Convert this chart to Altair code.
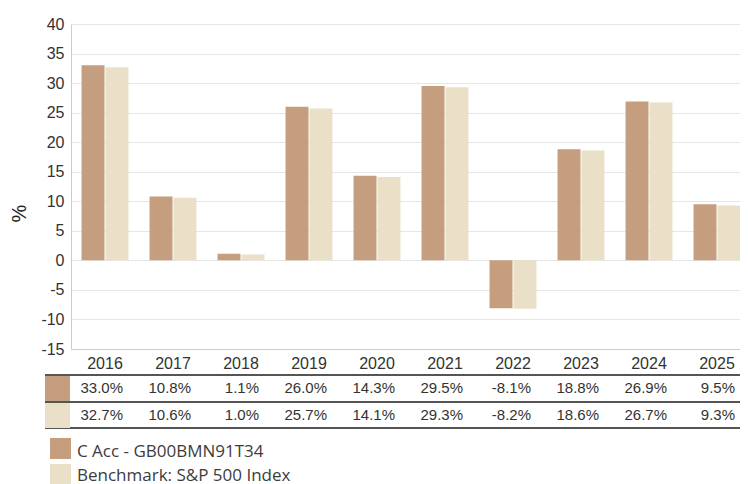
import altair as alt
import pandas as pd

years = ["2016", "2017", "2018", "2019", "2020", "2021", "2022", "2023", "2024", "2025"]
fund = [33.0, 10.8, 1.1, 26.0, 14.3, 29.5, -8.1, 18.8, 26.9, 9.5]
bench = [32.7, 10.6, 1.0, 25.7, 14.1, 29.3, -8.2, 18.6, 26.7, 9.3]
series = ["C Acc - GB00BMN91T34", "Benchmark: S&P 500 Index"]
colors = ["#c49e7f", "#eae0c8"]
y_ticks = [-15, -10, -5, 0, 5, 10, 15, 20, 25, 30, 35, 40]

rows = []
for s, vals in zip(series, [fund, bench]):
    for y, v in zip(years, vals):
        rows.append({"year": y, "series": s, "value": v, "label": f"{v:.1f}%"})
df = pd.DataFrame(rows)
one = pd.DataFrame({"a": [0]})

FONT = "Liberation Sans"
TXT = "#333333"

color_enc = alt.Color("series:N", scale=alt.Scale(domain=series, range=colors), legend=None)
x_enc = alt.X(
    "year:N",
    sort=years,
    scale=alt.Scale(domain=years, range=[0, 680], paddingInner=0.31, paddingOuter=0.155),
    axis=alt.Axis(title=None, labelAngle=0, ticks=False, labelPadding=6, labelFontSize=16,
                  labelFont=FONT, labelColor=TXT, domainColor="#cccccc", grid=False),
)

base = alt.Chart(df)

bars = base.mark_bar().encode(
    x=x_enc,
    xOffset=alt.XOffset("series:N", sort=series, scale=alt.Scale(domain=series, paddingInner=0.04)),
    y=alt.Y("value:Q", scale=alt.Scale(domain=[-15, 40], nice=False),
            axis=alt.Axis(values=y_ticks, title="%", titleFontSize=20, titleFont=FONT,
                          titleFontWeight="normal", titleColor="#222222", titleAngle=270,
                          titleX=-52, titleY=189, titleBaseline="middle", titleAlign="center",
                          labelFontSize=16, labelFont=FONT, labelColor=TXT, labelPadding=7,
                          ticks=False, gridColor="#e6e6e6", domainColor="#cccccc",
                          labelExpr="'' + datum.value")),
    color=color_enc,
)

layers = [bars]

# table rules
for yy in [351, 378, 404]:
    layers.append(
        alt.Chart(one).mark_rule(color="#555555", strokeWidth=2).encode(
            x=alt.value(-26), x2=alt.value(690), y=alt.value(yy)
        )
    )

row_y = [(352, 377, 369), (379, 404, 396)]
for s, (y1, y2, yb) in zip(series, row_y):
    sub = base.transform_filter(alt.datum.series == s)
    layers.append(
        sub.transform_filter(alt.datum.year == years[0]).mark_rect().encode(
            x=alt.value(-26), x2=alt.value(-1), y=alt.value(y1), y2=alt.value(y2), color=color_enc
        )
    )
    layers.append(
        sub.mark_text(align="right", baseline="alphabetic", dx=18, fontSize=15, font=FONT, color=TXT).encode(
            x=alt.X("year:N", sort=years), y=alt.value(yb), text="label:N"
        )
    )

# legend
leg_y = [(414, 435, 433), (440, 461, 457)]
for s, (y1, y2, yb) in zip(series, leg_y):
    sub = base.transform_filter((alt.datum.series == s) & (alt.datum.year == years[0]))
    layers.append(
        sub.mark_rect().encode(x=alt.value(-21), x2=alt.value(0), y=alt.value(y1), y2=alt.value(y2), color=color_enc)
    )
    layers.append(
        sub.mark_text(align="left", baseline="alphabetic", fontSize=17, font="Open Sans", color="#3c3c3c").encode(
            x=alt.value(6), y=alt.value(yb), text="series:N"
        )
    )

chart = alt.layer(*layers).properties(
    width=669,
    height=325,
    autosize=alt.AutoSizeParams(type="none"),
    padding={"left": 63, "top": 16, "right": 0, "bottom": 135},
).configure_view(strokeWidth=0)

chart.save("out.html", embed_options={"renderer": "svg", "actions": False})
